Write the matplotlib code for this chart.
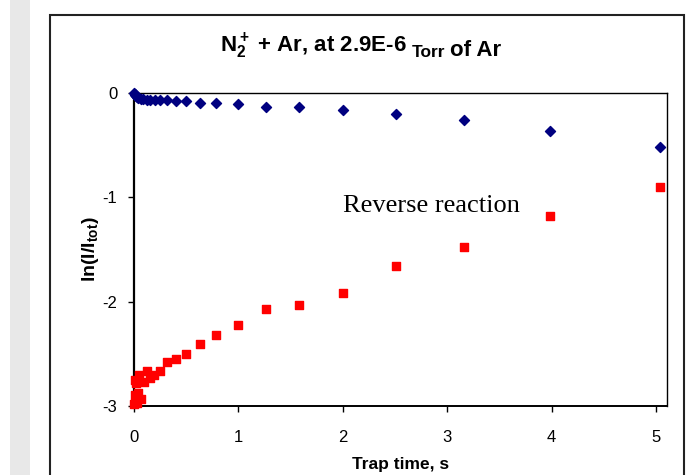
import numpy as np
import matplotlib.pyplot as plt
from matplotlib.patches import Rectangle

plt.rcParams['font.family'] = ['Liberation Sans', 'DejaVu Sans']
plt.rcParams['axes.unicode_minus'] = False
plt.rcParams['mathtext.fontset'] = 'custom'
plt.rcParams['mathtext.rm'] = 'Liberation Sans:bold'
plt.rcParams['mathtext.bf'] = 'Liberation Sans:bold'
plt.rcParams['mathtext.it'] = 'Liberation Sans:bold'

# N2+ decay (blue diamonds)
blue_t = [0.0, 0.005, 0.01, 0.016, 0.025, 0.04, 0.063, 0.09, 0.12, 0.15, 0.2, 0.25,
          0.316, 0.4, 0.5, 0.63, 0.79, 1.0, 1.26, 1.58, 2.0, 2.51, 3.16, 3.98, 5.04]
blue_v = [0.0, -0.01, -0.02, -0.03, -0.04, -0.05, -0.06, -0.06, -0.07, -0.07, -0.07, -0.07,
          -0.07, -0.08, -0.08, -0.10, -0.10, -0.11, -0.13, -0.13, -0.16, -0.20, -0.26, -0.36, -0.52]

# reverse reaction product (red squares)
red_t = [0.0, 0.005, 0.01, 0.016, 0.025, 0.04, 0.05, 0.07, 0.096, 0.12, 0.158, 0.19, 0.25,
         0.316, 0.4, 0.5, 0.63, 0.79, 1.0, 1.26, 1.58, 2.0, 2.51, 3.16, 3.98, 5.04]
red_v = [-2.98, -2.89, -2.75, -2.78, -2.97, -2.88, -2.70, -2.93, -2.77, -2.66, -2.73, -2.70, -2.66,
         -2.58, -2.55, -2.50, -2.41, -2.32, -2.22, -2.07, -2.03, -1.92, -1.66, -1.48, -1.18, -0.90]

x_ticks = [0, 1, 2, 3, 4, 5]
y_ticks = [-3, -2, -1, 0]

fig = plt.figure(figsize=(6.96, 4.75), dpi=100)

# grey strip and chart frame (Excel style)
fig.patches.append(Rectangle((10/696, 0), 20/696, 1, transform=fig.transFigure,
                             facecolor='#e8e8e8', edgecolor='none', zorder=0))
fig.patches.append(Rectangle((50/696, -0.1), 634/696, 1.1 - 15/475, transform=fig.transFigure,
                             facecolor='white', edgecolor='#222222', linewidth=1.5, zorder=1))

ax = fig.add_axes([134/696, 1 - 406/475, 533/696, 313/475])
ax.set_zorder(2)
ax.scatter(blue_t, blue_v, marker='D', s=26, color='#000080', zorder=3, clip_on=False)
ax.scatter(red_t, red_v, marker='s', s=32, color='#ff0000', zorder=3, clip_on=False)

ax.set_xlim(0, 5.105)
ax.set_ylim(-3, 0)
ax.set_xticks(x_ticks)
ax.set_yticks(y_ticks)
ax.tick_params(axis='x', direction='out', length=4, width=1, labelsize=12, pad=13)
ax.tick_params(axis='y', direction='out', length=4, width=1, labelsize=12, pad=8)
for s in ['top', 'right']:
    ax.spines[s].set_linewidth(1.0)
ax.spines['left'].set_linewidth(1.6)
ax.spines['bottom'].set_linewidth(1.4)

ax.text(2.0, -1.08, 'Reverse reaction', family='Liberation Serif', fontsize=19,
        va='center', ha='left')

ax.set_xlabel('Trap time, s', fontsize=12.5, fontweight='bold', labelpad=9)
ax.set_ylabel(r'ln(I/I$_{tot}$)', fontsize=14, fontweight='bold', labelpad=1)

t1 = fig.text(220/696, 1 - 61/475, r'N$_2^+$ + Ar, at 2.9E-6', fontsize=16, fontweight='bold',
              va='bottom', ha='left')
t2 = fig.text(0, 0, 'Torr', fontsize=12.5, fontweight='bold', va='bottom', ha='left',
              transform=None)
fig.canvas.draw()
r = fig.canvas.get_renderer()
bb = t1.get_window_extent(r)
t2.set_position((bb.x1 + 5, bb.y0 + 1))
bb2 = t2.get_window_extent(r)
fig.text(bb2.x1 + 5, bb.y0, 'of Ar', fontsize=16, fontweight='bold', va='bottom', ha='left',
         transform=None)

fig.savefig('out.png', dpi=100)
